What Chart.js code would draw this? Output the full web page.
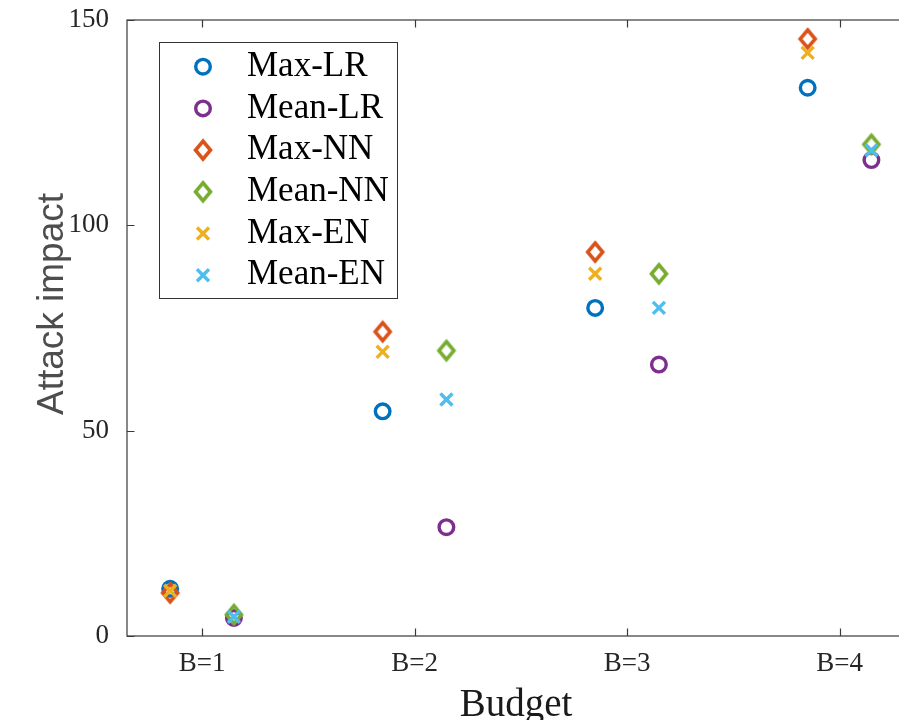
<!DOCTYPE html>
<html>
<head>
<meta charset="utf-8">
<script src="https://cdn.jsdelivr.net/npm/chart.js@4.4.1/dist/chart.umd.min.js"></script>
<style>
  html, body { margin: 0; padding: 0; background: #fff; }
  #wrap { width: 899px; height: 720px; overflow: hidden; position: relative; }
  #chart { position: absolute; left: 0; top: 0; }
</style>
</head>
<body>
<div id="wrap"><canvas id="chart" width="920" height="740"></canvas></div>
<script>
// budgets on the x axis
const categories = ['B=1', 'B=2', 'B=3', 'B=4'];
const yTicks = [0, 50, 100, 150];

// attack impact per budget
const maxLR  = [11.5, 54.7, 79.9, 133.5];
const meanLR = [4.4, 26.5, 66.1, 115.9];
const maxNN  = [10.5, 74.1, 93.5, 145.4];
const meanNN = [5.2, 69.5, 88.2, 119.7];
const maxEN  = [11.0, 69.2, 88.2, 142.0];
const meanEN = [4.7, 57.6, 79.9, 118.3];

const seriesNames = ['Max-LR', 'Mean-LR', 'Max-NN', 'Mean-NN', 'Max-EN', 'Mean-EN'];

const BLUE = '#0072BD', PURPLE = '#7E2F8E', ORANGE = '#D95319',
      GREEN = '#77AC30', YELLOW = '#EDB120', CYAN = '#4DBEEE';

// MATLAB style diamond, a bit taller than wide
const makeDiamond = (color) => {
  const c = document.createElement('canvas');
  c.width = 26; c.height = 30;
  const g = c.getContext('2d');
  g.strokeStyle = color;
  g.lineWidth = 3.6;
  g.beginPath();
  g.moveTo(13, 6);
  g.lineTo(20.5, 15);
  g.lineTo(13, 24);
  g.lineTo(5.5, 15);
  g.closePath();
  g.stroke();
  return c;
};

// Max series sit left of the budget, Mean series right of it
const toPoints = (vals, shift) => vals.map((v, i) => ({ x: i + 1 + shift, y: v }));

const marker = (style, color) => {
  if (style === 'diamond') return { pointStyle: makeDiamond(color), pointRadius: 10, pointBorderWidth: 0 };
  if (style === 'circle') return { pointStyle: 'circle', pointRadius: 7.3, pointBorderWidth: 3.4 };
  return { pointStyle: 'crossRot', pointRadius: 8.5, pointBorderWidth: 3.4 };
};

const specs = [
  [maxLR, -0.15, 'circle', BLUE],
  [meanLR, 0.15, 'circle', PURPLE],
  [maxNN, -0.15, 'diamond', ORANGE],
  [meanNN, 0.15, 'diamond', GREEN],
  [maxEN, -0.15, 'cross', YELLOW],
  [meanEN, 0.15, 'cross', CYAN]
];

const datasets = specs.map((s, i) => Object.assign({
  label: seriesNames[i],
  data: toPoints(s[0], s[1]),
  borderColor: s[3],
  backgroundColor: 'rgba(0,0,0,0)',
  pointBorderColor: s[3],
  pointBackgroundColor: 'rgba(0,0,0,0)',
  order: specs.length - i   // later series drawn on top, like MATLAB
}, marker(s[2], s[3])));

const AXIS = '#3a3a3a';

// box, inward ticks, y label and legend
const framePlugin = {
  id: 'frame',
  afterDraw(chart) {
    const { ctx, chartArea: a, scales } = chart;
    ctx.save();
    ctx.strokeStyle = AXIS;
    ctx.lineWidth = 1.2;
    ctx.strokeRect(a.left, a.top, a.right - a.left, a.bottom - a.top);
    ctx.beginPath();
    scales.y.ticks.forEach(t => {
      const y = Math.round(scales.y.getPixelForValue(t.value)) + 0.5;
      ctx.moveTo(a.left, y); ctx.lineTo(a.left + 7.5, y);
    });
    scales.x.ticks.forEach(t => {
      const x = Math.round(scales.x.getPixelForValue(t.value)) + 0.5;
      ctx.moveTo(x, a.bottom); ctx.lineTo(x, a.bottom - 7.5);
      ctx.moveTo(x, a.top); ctx.lineTo(x, a.top + 7.5);
    });
    ctx.stroke();

    // y axis title
    ctx.save();
    ctx.translate(53, 304);
    ctx.rotate(-Math.PI / 2);
    ctx.font = '37px "Liberation Sans"';
    ctx.fillStyle = '#4d4d4d';
    ctx.textAlign = 'center';
    ctx.textBaseline = 'middle';
    ctx.fillText('Attack impact', 0, 0);
    ctx.restore();

    // legend
    ctx.fillStyle = '#fff';
    ctx.fillRect(159.5, 42.5, 238, 256);
    ctx.strokeStyle = '#333';
    ctx.lineWidth = 1;
    ctx.strokeRect(159.5, 42.5, 238, 256);
    chart.data.datasets.forEach((ds, i) => {
      const y = 66.7 + i * 41.7;
      ctx.strokeStyle = ds.pointBorderColor;
      ctx.fillStyle = 'rgba(0,0,0,0)';
      ctx.lineWidth = ds.pointBorderWidth;
      Chart.helpers.drawPoint(ctx, {
        pointStyle: ds.pointStyle, radius: ds.pointRadius,
        rotation: 0, borderWidth: ds.pointBorderWidth
      }, 203, y);
      ctx.fillStyle = '#000';
      ctx.font = '35px "Liberation Serif"';
      ctx.textAlign = 'left';
      ctx.textBaseline = 'middle';
      ctx.fillText(ds.label, 247, y);
    });
    ctx.restore();
  }
};

new Chart(document.getElementById('chart'), {
  type: 'scatter',
  data: { datasets: datasets },
  options: {
    responsive: false,
    animation: false,
    devicePixelRatio: 1,
    layout: { padding: { top: 20, right: 15, left: 0, bottom: 0 } },
    plugins: { legend: { display: false }, tooltip: { enabled: false } },
    scales: {
      x: {
        type: 'linear',
        min: 0.647,
        max: 4.308,
        afterBuildTicks: (s) => { s.ticks = categories.map((c, i) => ({ value: i + 1 })); },
        afterFit: (s) => { s.height = 104; s.paddingLeft = 0; s.paddingRight = 0; },
        grid: { display: false },
        border: { display: false },
        ticks: {
          autoSkip: false,
          maxRotation: 0,
          padding: 4,
          color: '#262626',
          font: { family: 'Liberation Serif', size: 27 },
          callback: (v) => categories[Math.round(v) - 1]
        },
        title: {
          display: true,
          text: 'Budget',
          color: '#1a1a1a',
          font: { family: 'Liberation Serif', size: 39 },
          padding: { top: 0, bottom: 11 }
        }
      },
      y: {
        min: 0,
        max: 150,
        afterBuildTicks: (s) => { s.ticks = yTicks.map(v => ({ value: v })); },
        afterFit: (s) => { s.width = 127; s.paddingTop = 0; s.paddingBottom = 0; },
        grid: { display: false },
        border: { display: false },
        ticks: {
          padding: 10,
          color: '#262626',
          font: { family: 'Liberation Serif', size: 27 }
        }
      }
    }
  },
  plugins: [framePlugin]
});
</script>
</body>
</html>
